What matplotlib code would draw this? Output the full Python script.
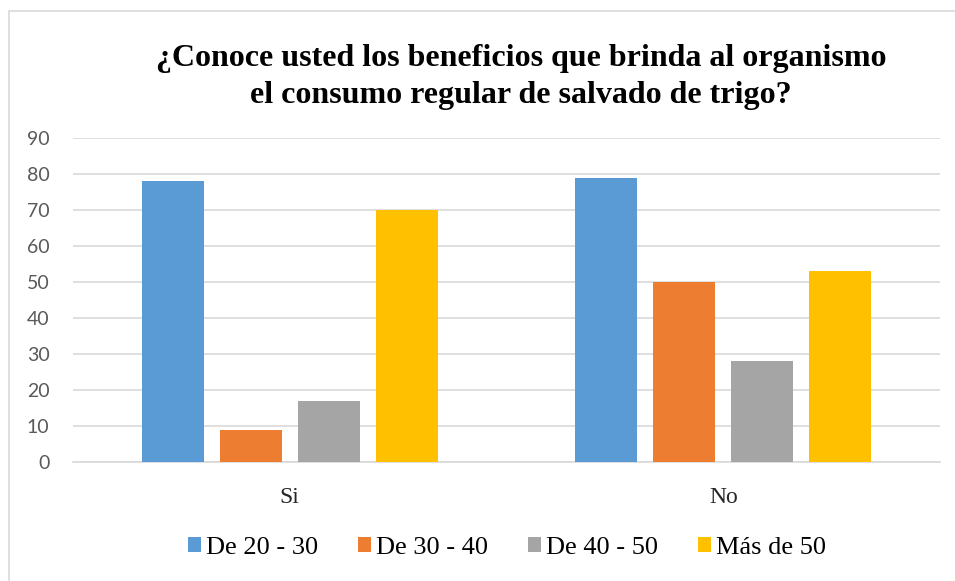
import matplotlib
matplotlib.use("Agg")
import matplotlib.pyplot as plt
from matplotlib.patches import Rectangle
import numpy as np

categories = ["Si", "No"]
series_names = ["De 20 - 30", "De 30 - 40", "De 40 - 50", "Más de 50"]
values = {
    "De 20 - 30": [78, 79],
    "De 30 - 40": [9, 50],
    "De 40 - 50": [17, 28],
    "Más de 50": [70, 53],
}
colors = ["#5b9bd5", "#ed7d31", "#a5a5a5", "#ffc000"]
yticks = [0, 10, 20, 30, 40, 50, 60, 70, 80, 90]

fig = plt.figure(figsize=(9.55, 5.81), dpi=100)
fig.patches.append(Rectangle((9/955, -0.1), 1.2, 1.1 - 11/581, transform=fig.transFigure,
                             fill=False, edgecolor="#d9d9d9", linewidth=1.2))
ax = fig.add_axes([73/955, 1 - 462/581, (940 - 73)/955, (462 - 138)/581])

x = np.arange(len(categories))
bw = 0.143
step = 0.18
for i, name in enumerate(series_names):
    ax.bar(x + (i - 1.5) * step, values[name], width=bw, color=colors[i],
           label=name, zorder=3)

ax.set_xlim(-0.5, 1.5)
ax.set_ylim(0, 90)
ax.set_yticks(yticks)
ax.set_yticklabels([str(t) for t in yticks], fontfamily="Lato", fontsize=14, color="#595959")
ax.set_xticks(x)
ax.set_xticklabels(categories, fontfamily="Liberation Serif", fontsize=17, color="#262626")
ax.tick_params(axis="both", length=0)
ax.tick_params(axis="x", pad=18)
ax.tick_params(axis="y", pad=17)
ax.grid(axis="y", color="#d9d9d9", linewidth=1.2, zorder=0)
for s in ["top", "right", "left"]:
    ax.spines[s].set_visible(False)
ax.spines["bottom"].set_color("#d9d9d9")
ax.spines["bottom"].set_linewidth(1.2)

fig.text(521/955, 1 - 77/581, "¿Conoce usted los beneficios que brinda al organismo\nel consumo regular de salvado de trigo?",
         ha="center", va="center", fontfamily="Liberation Serif", fontweight="bold",
         fontsize=23, linespacing=1.4)

leg = fig.legend(loc="center", bbox_to_anchor=(507/955, 1 - 548/581), ncol=4, frameon=False,
                 prop={"family": "Liberation Serif", "size": 19}, handlelength=0.5,
                 handleheight=0.5, handletextpad=0.2, columnspacing=1.5)

fig.savefig("out.png", dpi=100)
